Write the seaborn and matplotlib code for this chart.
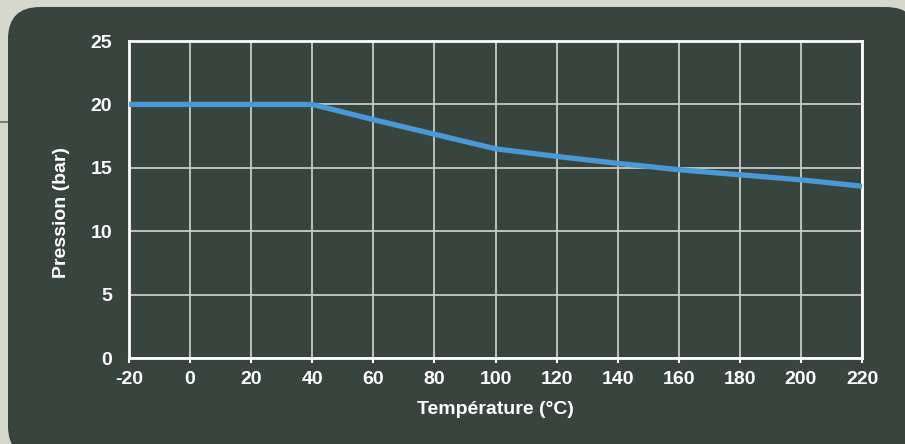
import matplotlib
matplotlib.use('Agg')
import matplotlib.pyplot as plt
from matplotlib.patches import FancyBboxPatch
from matplotlib.transforms import IdentityTransform
import seaborn as sns
import pandas as pd

# data
temperature = [-20, 40, 60, 80, 100, 120, 140, 160, 180, 200, 220]
pression = [20, 20, 18.8, 17.65, 16.5, 15.9, 15.35, 14.85, 14.45, 14.05, 13.55]
x_ticks = [-20, 0, 20, 40, 60, 80, 100, 120, 140, 160, 180, 200, 220]
y_ticks = [0, 5, 10, 15, 20, 25]

df = pd.DataFrame({'temp': temperature, 'p': pression})

sns.set_style('dark')
plt.rcParams['font.family'] = ['Liberation Sans', 'DejaVu Sans']

bg_out = '#d6d7cd'
bg_card = '#38453f'
fg = '#ffffff'

fig = plt.figure(figsize=(9.05, 4.44), dpi=100)
fig.patch.set_facecolor(bg_out)

# rounded dark card behind the chart (pixel coords, origin bottom-left)
card = FancyBboxPatch((8, -14), 910, 451,
                      boxstyle='round,pad=0,rounding_size=32',
                      transform=IdentityTransform(), facecolor=bg_card,
                      edgecolor='none', zorder=-5)
fig.patches.append(card)
# thin gray line on the left background
fig.add_artist(plt.Line2D([0, 8 / 905], [1 - 122 / 444] * 2, color='#7d807a',
                          lw=1.5, transform=fig.transFigure, zorder=-5))

ax = fig.add_axes([129 / 905, 1 - 358 / 444, (862 - 129) / 905, (358 - 41) / 444])
ax.set_zorder(2)
ax.set_facecolor(bg_card)

sns.lineplot(data=df, x='temp', y='p', ax=ax, color='#4a98d6', linewidth=3.8,
             solid_joinstyle='miter', zorder=3)

ax.set_xlim(-20, 220)
ax.set_ylim(0, 25)
ax.set_xticks(x_ticks)
ax.set_yticks(y_ticks)
ax.set_xticklabels([str(t) for t in x_ticks])
ax.set_yticklabels([str(t) for t in y_ticks])
ax.grid(True, color='#c9cbc8', linewidth=1.3)
ax.set_axisbelow(True)

for s in ax.spines.values():
    s.set_color(fg)
    s.set_linewidth(2)
    s.set_visible(True)

ax.tick_params(axis='x', colors=fg, length=3.6, width=1.5, direction='out',
               labelsize=14, pad=6, bottom=True)
ax.tick_params(axis='y', colors=fg, length=0, labelsize=14, pad=12)
for lbl in ax.get_xticklabels() + ax.get_yticklabels():
    lbl.set_fontweight('bold')

ax.set_xlabel('Température (°C)', color=fg, fontsize=14, fontweight='bold', labelpad=9)
ax.set_ylabel('Pression (bar)', color=fg, fontsize=14, fontweight='bold', labelpad=15)
ax.yaxis.label.set_y(0.46)  # label sits a bit below the middle in the reference

fig.savefig('out.png', dpi=100, facecolor=fig.get_facecolor())
